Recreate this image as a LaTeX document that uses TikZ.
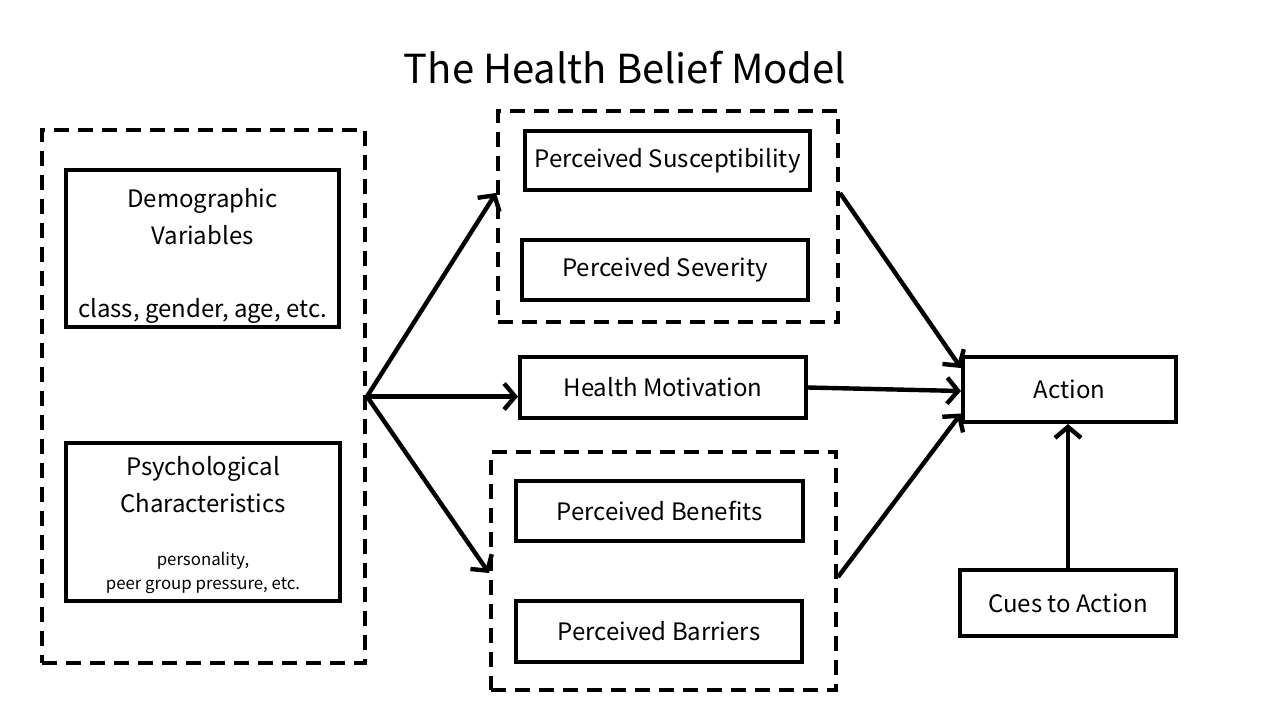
\documentclass[tikz,border=0pt]{standalone}
\usepackage{fontspec}
\setmainfont{Noto Sans CJK SC}
\usetikzlibrary{arrows.meta}
\begin{document}
\begin{tikzpicture}[x=0.5pt,y=-0.5pt,
	box/.style={draw,line width=2pt,inner sep=0pt,align=center,font=\fontsize{12}{18.5}\selectfont},
	group/.style={draw,line width=2pt,dash pattern=on 7.5pt off 4.5pt,inner sep=0pt},
	arr/.style={line width=2.2pt,-{Straight Barb[length=5.5pt,width=13pt]}}]
	\useasboundingbox (0,0) rectangle (1277,718);
	\node (title) at (625,68) {\fontsize{20}{24}\selectfont The Health Belief Model};
	% left column
	\node[group,minimum width=161.5pt,minimum height=266.5pt] (left) at (203.5,396.5) {};
	\node[box,minimum width=136.5pt,minimum height=78.5pt] (demo) at (202.5,248.5)
	{\rule{0pt}{17pt}Demographic\\Variables\\[18pt]class, gender, age, etc.};
	\node[box,minimum width=137pt,minimum height=79pt] (psych) at (203,522)
	{\rule{0pt}{13pt}Psychological\\Characteristics\\[8pt]{\fontsize{8.4}{12}\selectfont personality,}\\[-6.5pt]{\fontsize{8.4}{12}\selectfont peer group pressure, etc.}};
	% middle column
	\node[group,minimum width=170pt,minimum height=105.5pt] (top) at (668,216.5) {};
	\node[box,minimum width=142.5pt,minimum height=29.5pt] (suscept) at (667.5,160.5) {Perceived Susceptibility};
	\node[box,minimum width=143pt,minimum height=30pt] (sever) at (665,270) {Perceived Severity};
	\node[box,minimum width=143pt,minimum height=30.5pt] (motiv) at (663,387.5) {Health Motivation};
	\node[group,minimum width=172.5pt,minimum height=119pt] (bottom) at (663.5,571) {};
	\node[box,minimum width=143.5pt,minimum height=30pt] (benef) at (659.5,511) {Perceived Benefits};
	\node[box,minimum width=143pt,minimum height=30.5pt] (barr) at (659,631.5) {Perceived Barriers};
	% right column
	\node[box,minimum width=106.5pt,minimum height=32.5pt] (action) at (1069.5,389.5) {Action};
	\node[box,minimum width=108pt,minimum height=33pt] (cues) at (1068,603) {Cues to Action};
	% arrows
	\draw[arr] (left.east) -- ([yshift=11.75pt]top.west);
	\draw[arr] (left.east) -- (left.east -| motiv.west);
	\draw[arr] (left.east) -- ([yshift=-1pt]bottom.west);
	\draw[arr] ([yshift=11.75pt]top.east) -- ([yshift=10.75pt]action.west);
	\draw[arr] (motiv.east) -- ([yshift=-0.75pt]action.west);
	\draw[arr] ([yshift=-3pt]bottom.east) -- ([yshift=-12pt]action.west);
	\draw[arr] (cues.north) -- (cues.north |- action.south);
\end{tikzpicture}
\end{document}
